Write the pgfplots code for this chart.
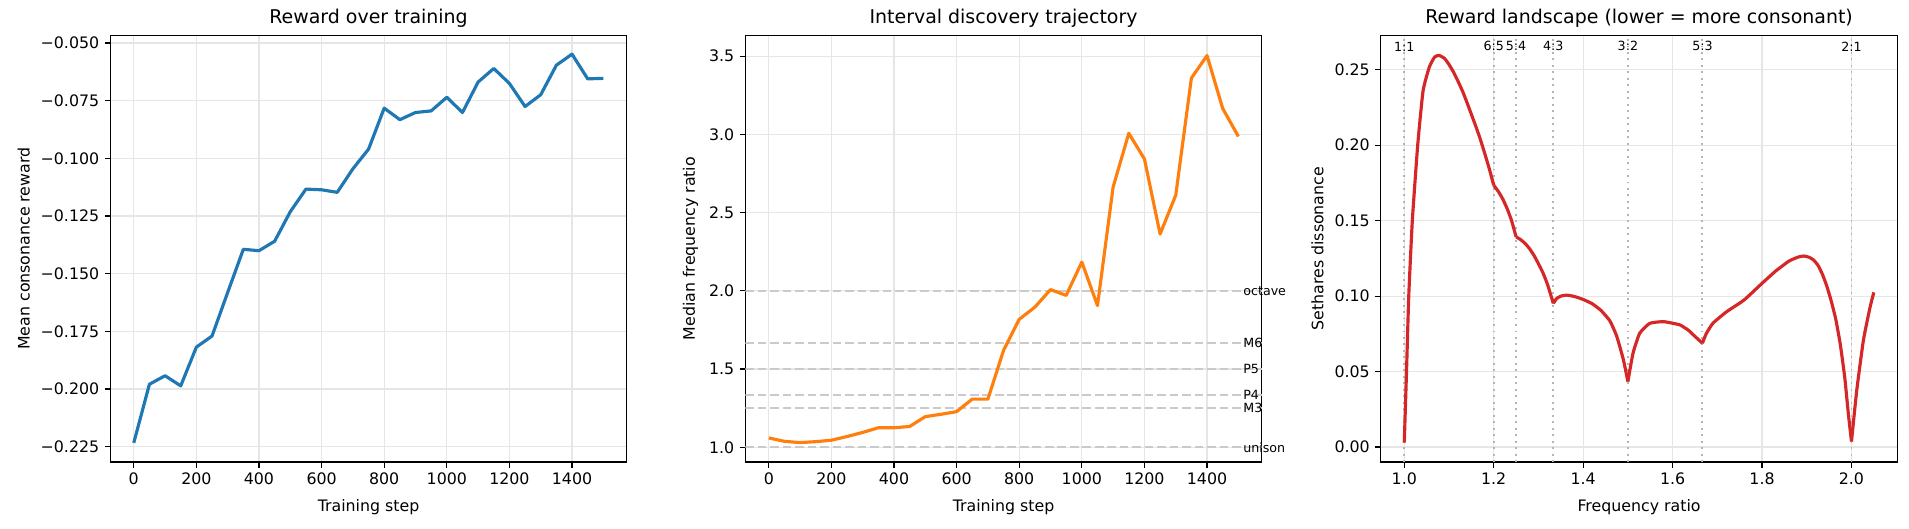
\documentclass[border=0pt]{standalone}
\usepackage{fontspec}
\setmainfont{DejaVu Sans}
\usepackage{pgfplots}
\pgfplotsset{compat=1.18}
\definecolor{tabblue}{HTML}{1F77B4}
\definecolor{taborange}{HTML}{FF7F0E}
\definecolor{tabred}{HTML}{D62728}
\definecolor{gridc}{HTML}{E6E6E6}
\definecolor{refc}{HTML}{CACACA}
\definecolor{dotc}{HTML}{B5B5B5}

\pgfplotstableread{
x y
0 -0.2233
50 -0.1979
100 -0.1942
150 -0.1986
200 -0.1818
250 -0.1770
300 -0.1581
350 -0.1394
400 -0.1400
450 -0.1359
500 -0.1231
550 -0.1133
600 -0.1136
650 -0.1147
700 -0.1045
750 -0.0960
800 -0.0782
850 -0.0832
900 -0.0801
950 -0.0794
1000 -0.0735
1050 -0.0801
1100 -0.0669
1150 -0.0610
1200 -0.0675
1250 -0.0775
1300 -0.0724
1350 -0.0596
1400 -0.0548
1450 -0.0655
1500 -0.0653
}\rewardtable

\pgfplotstableread{
x y
0 1.060
50 1.038
100 1.030
150 1.036
200 1.045
250 1.069
300 1.095
350 1.125
400 1.125
450 1.133
500 1.196
550 1.211
600 1.228
650 1.308
700 1.308
750 1.620
800 1.818
850 1.896
900 2.008
950 1.971
1000 2.184
1050 1.906
1100 2.664
1150 3.007
1200 2.843
1250 2.363
1300 2.611
1350 3.360
1400 3.504
1450 3.166
1500 2.987
}\ratiotable

\pgfplotsset{
 mpl/.style={
  scale only axis, width=326.9pt, height=270.1pt,
  anchor=south west,
  axis line style={line width=0.8pt, black},
  tick align=outside, tick pos=left,
  major tick length=3.5pt,
  every tick/.style={black, line width=0.8pt},
  grid=major, major grid style={gridc, line width=0.8pt},
  tick label style={font=\fontsize{10}{12}\selectfont},
  label style={font=\fontsize{10}{12}\selectfont},
  xlabel style={yshift=-2pt},
  title style={font=\fontsize{12}{14.4}\selectfont, yshift=-4.5pt},
  clip mode=individual,
 },
 seg/.style={tabred, line width=2pt, smooth, tension=0.3},
}

\begin{document}
\begin{tikzpicture}
\useasboundingbox (0,0) rectangle (1208.2pt,334.2pt);

% Panel 1
\begin{axis}[mpl, at={(69.8pt,41.8pt)},
  xmin=-75, xmax=1575, ymin=-0.2316, ymax=-0.0466,
  xtick={0,200,400,600,800,1000,1200,1400},
  xticklabels={0,200,400,600,800,1000,1200,1400},
  ytick={-0.225,-0.2,-0.175,-0.15,-0.125,-0.1,-0.075,-0.05},
  yticklabels={−0.225,−0.200,−0.175,−0.150,−0.125,−0.100,−0.075,−0.050},
  title={Reward over training},
  xlabel={Training step}, ylabel={Mean consonance reward}]
\addplot[tabblue, line width=2pt, line join=round] table[x=x,y=y] {\rewardtable};
\end{axis}

% Panel 2
\begin{axis}[mpl, at={(471.7pt,41.8pt)},
  xmin=-75, xmax=1575, ymin=0.906, ymax=3.634,
  xtick={0,200,400,600,800,1000,1200,1400},
  xticklabels={0,200,400,600,800,1000,1200,1400},
  ytick={1,1.5,2,2.5,3,3.5},
  yticklabels={1.0,1.5,2.0,2.5,3.0,3.5},
  title={Interval discovery trajectory},
  xlabel={Training step}, ylabel={Median frequency ratio}]
\addplot[refc, line width=1.5pt, dash pattern=on 5.5pt off 2.4pt] coordinates {(-75,1) (1575,1)};
\addplot[refc, line width=1.5pt, dash pattern=on 5.5pt off 2.4pt] coordinates {(-75,1.25) (1575,1.25)};
\addplot[refc, line width=1.5pt, dash pattern=on 5.5pt off 2.4pt] coordinates {(-75,1.3333) (1575,1.3333)};
\addplot[refc, line width=1.5pt, dash pattern=on 5.5pt off 2.4pt] coordinates {(-75,1.5) (1575,1.5)};
\addplot[refc, line width=1.5pt, dash pattern=on 5.5pt off 2.4pt] coordinates {(-75,1.6667) (1575,1.6667)};
\addplot[refc, line width=1.5pt, dash pattern=on 5.5pt off 2.4pt] coordinates {(-75,2) (1575,2)};
\addplot[taborange, line width=2pt, line join=round] table[x=x,y=y] {\ratiotable};
\begin{scope}[every node/.style={anchor=west, inner sep=0pt, font=\fontsize{8}{9.6}\selectfont}]
\node at (axis cs:1515,1) {unison};
\node at (axis cs:1515,1.25) {M3};
\node at (axis cs:1515,1.3333) {P4};
\node at (axis cs:1515,1.5) {P5};
\node at (axis cs:1515,1.6667) {M6};
\node at (axis cs:1515,2) {octave};
\end{scope}
\end{axis}

% Panel 3
\begin{axis}[mpl, at={(873.9pt,41.8pt)},
  xmin=0.9475, xmax=2.1025, ymin=-0.0099, ymax=0.2729,
  xtick={1,1.2,1.4,1.6,1.8,2},
  xticklabels={1.0,1.2,1.4,1.6,1.8,2.0},
  ytick={0,0.05,0.1,0.15,0.2,0.25},
  yticklabels={0.00,0.05,0.10,0.15,0.20,0.25},
  title={Reward landscape (lower = more consonant)},
  xlabel={Frequency ratio}, ylabel={Sethares dissonance}]
\pgfplotsinvokeforeach{1,1.2,1.25,1.3333,1.5,1.6667,2}{
  \addplot[dotc, line width=1.2pt, dash pattern=on 1.2pt off 2.9pt] coordinates {(#1,-0.0099) (#1,0.2729)};
}
\addplot[seg] coordinates {
(1.000,0.003) (1.005,0.050) (1.010,0.100) (1.018,0.150) (1.030,0.200) (1.042,0.236)
(1.056,0.2518) (1.068,0.2585) (1.078,0.2595) (1.09,0.2575) (1.10,0.2535) (1.11,0.2485)
(1.12,0.2425) (1.13,0.236) (1.14,0.2285) (1.15,0.2205) (1.16,0.2125) (1.17,0.204)
(1.18,0.1945) (1.19,0.1845) (1.20,0.1735)};
\addplot[seg] coordinates {
(1.20,0.1735) (1.21,0.1695) (1.22,0.1645) (1.23,0.158) (1.24,0.150) (1.25,0.1393)};
\addplot[seg] coordinates {
(1.25,0.1393) (1.26,0.1375) (1.27,0.135) (1.28,0.1315) (1.29,0.127) (1.30,0.1215)
(1.31,0.1155) (1.32,0.108) (1.3333,0.0952)};
\addplot[seg] coordinates {
(1.3333,0.0952) (1.341,0.0985) (1.35,0.1000) (1.363,0.1007) (1.38,0.0998) (1.40,0.0978)
(1.42,0.0950) (1.44,0.0905) (1.46,0.0835) (1.475,0.0735) (1.49,0.0578) (1.50,0.0434)};
\addplot[seg] coordinates {
(1.50,0.0434) (1.5115,0.0622) (1.5264,0.0754) (1.549,0.082) (1.578,0.0831) (1.5943,0.0824)
(1.6167,0.0809) (1.635,0.0775) (1.6465,0.0743) (1.6667,0.0688)};
\addplot[seg] coordinates {
(1.6667,0.0688) (1.675,0.075) (1.69,0.082) (1.72,0.0895) (1.76,0.0975) (1.80,0.1085)
(1.83,0.1165) (1.86,0.1232) (1.88,0.1258) (1.893,0.1266) (1.905,0.1258) (1.915,0.1240)
(1.925,0.1205) (1.935,0.1145) (1.945,0.1065) (1.955,0.0965) (1.965,0.0845) (1.975,0.068)
(1.985,0.046) (1.993,0.022) (2.00,0.0037)};
\addplot[seg] coordinates {
(2.000,0.0037) (2.0119,0.0379) (2.0268,0.071) (2.0418,0.093) (2.050,0.1025)};
\begin{scope}[every node/.style={anchor=center, inner sep=0pt, font=\fontsize{8}{9.6}\selectfont}]
\node at (axis cs:1,0.2655) {1:1};
\node at (axis cs:1.2,0.2655) {6:5};
\node at (axis cs:1.25,0.2655) {5:4};
\node at (axis cs:1.3333,0.2655) {4:3};
\node at (axis cs:1.5,0.2655) {3:2};
\node at (axis cs:1.6667,0.2655) {5:3};
\node at (axis cs:2,0.2655) {2:1};
\end{scope}
\end{axis}
\end{tikzpicture}
\end{document}
